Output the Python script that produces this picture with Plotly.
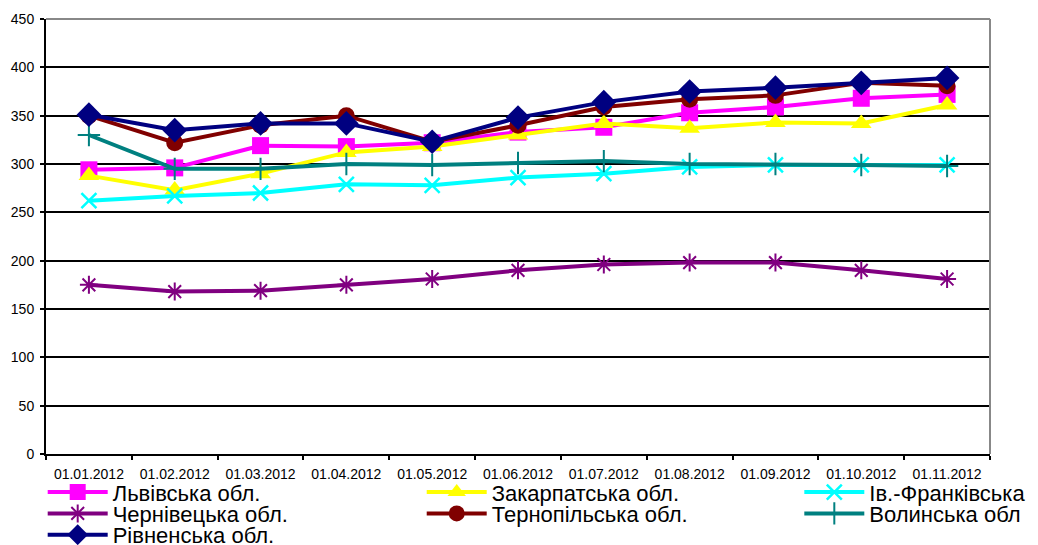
import plotly.graph_objects as go

dates = ["01.01.2012", "01.02.2012", "01.03.2012", "01.04.2012", "01.05.2012", "01.06.2012",
         "01.07.2012", "01.08.2012", "01.09.2012", "01.10.2012", "01.11.2012"]

lviv = [294, 296, 319, 318, 322, 333, 338, 353, 359, 368, 372]
zakarpattia = [288, 273, 290, 312, 318, 330, 342, 337, 343, 342, 361]
iv_frankivsk = [262, 267, 270, 279, 278, 286, 290, 297, 299, 299, 299]
chernivtsi = [175, 168, 169, 175, 181, 190, 196, 198, 198, 190, 181]
ternopil = [350, 322, 340, 350, 323, 340, 359, 367, 371, 384, 381]
volyn = [330, 295, 295, 300, 299, 301, 303, 300, 300, 299, 298]
rivne = [351, 335, 342, 342, 323, 348, 364, 375, 379, 384, 389]

series_names = ["Львівська обл.", "Закарпатська обл.", "Ів.-Франківська",
                "Чернівецька обл.", "Тернопільська обл.", "Волинська обл",
                "Рівненська обл."]

FONT = "Arial, Liberation Sans, sans-serif"

styles = [
    dict(color="#FF00FF", symbol="square", size=17, lw=0),
    dict(color="#FFFF00", symbol="triangle-up", size=18, lw=0),
    dict(color="#00FFFF", symbol="x-thin-open", size=15, lw=2.5),
    dict(color="#800080", symbol="asterisk-open", size=15, lw=2),
    dict(color="#800000", symbol="circle", size=17, lw=0),
    dict(color="#008080", symbol="cross-thin-open", size=16, lw=2),
    dict(color="#000080", symbol="diamond", size=19, lw=0),
]
data = [lviv, zakarpattia, iv_frankivsk, chernivtsi, ternopil, volyn, rivne]
legend_ids = ["legend", "legend2", "legend3", "legend4", "legend5", "legend6", "legend7"]

fig = go.Figure()
for name, vals, st, lid in zip(series_names, data, styles, legend_ids):
    marker = dict(symbol=st["symbol"], size=st["size"], color=st["color"])
    if st["lw"]:
        marker["line"] = dict(width=st["lw"], color=st["color"])
    else:
        marker["line"] = dict(width=0)
    fig.add_trace(go.Scatter(
        x=dates, y=vals, name=name, mode="lines+markers",
        line=dict(color=st["color"], width=4),
        marker=marker, legend=lid, showlegend=True,
    ))

col_x = [-0.0035, 0.398, 0.798]
row_y = [-0.088, -0.137, -0.186]

legends = {}
for i, lid in enumerate(legend_ids):
    r, c = divmod(i, 3)
    legends[lid] = dict(orientation="v", itemwidth=60,
                        font=dict(family=FONT, size=22, color="#000"),
                        bgcolor="rgba(0,0,0,0)", x=col_x[c], xanchor="left",
                        y=row_y[r], yanchor="middle", itemclick=False)

fig.update_layout(
    width=1038, height=545, showlegend=True,
    margin=dict(l=46, r=48, t=19, b=91, autoexpand=False),
    paper_bgcolor="white", plot_bgcolor="white",
    font=dict(family=FONT, size=13, color="#000"),
    xaxis=dict(type="category", range=[-0.5, 10.5], showgrid=False,
               showline=True, linecolor="#000", linewidth=2,
               ticks="outside", tickson="boundaries", ticklen=4, tickwidth=1.5,
               tickcolor="#000", tickfont=dict(size=14, family=FONT),
               ticklabelstandoff=6),
    yaxis=dict(range=[0, 450], dtick=50, showgrid=True, gridcolor="#000",
               gridwidth=1.5, zeroline=False, showline=True, linecolor="#000",
               linewidth=2, ticks="outside", ticklen=4, tickwidth=1.5,
               tickcolor="#000", tickfont=dict(size=14, family=FONT),
               ticklabelstandoff=3),
    shapes=[
        dict(type="line", xref="paper", yref="paper", x0=0, x1=1, y0=1, y1=1,
             line=dict(color="#888", width=2), layer="above"),
        dict(type="line", xref="paper", yref="paper", x0=1, x1=1, y0=0, y1=1,
             line=dict(color="#888", width=2), layer="above"),
    ],
    **legends,
)

fig.write_html("out.html", config={"displayModeBar": False},
               post_script="document.body.style.margin='0';document.body.style.overflow='hidden';")
